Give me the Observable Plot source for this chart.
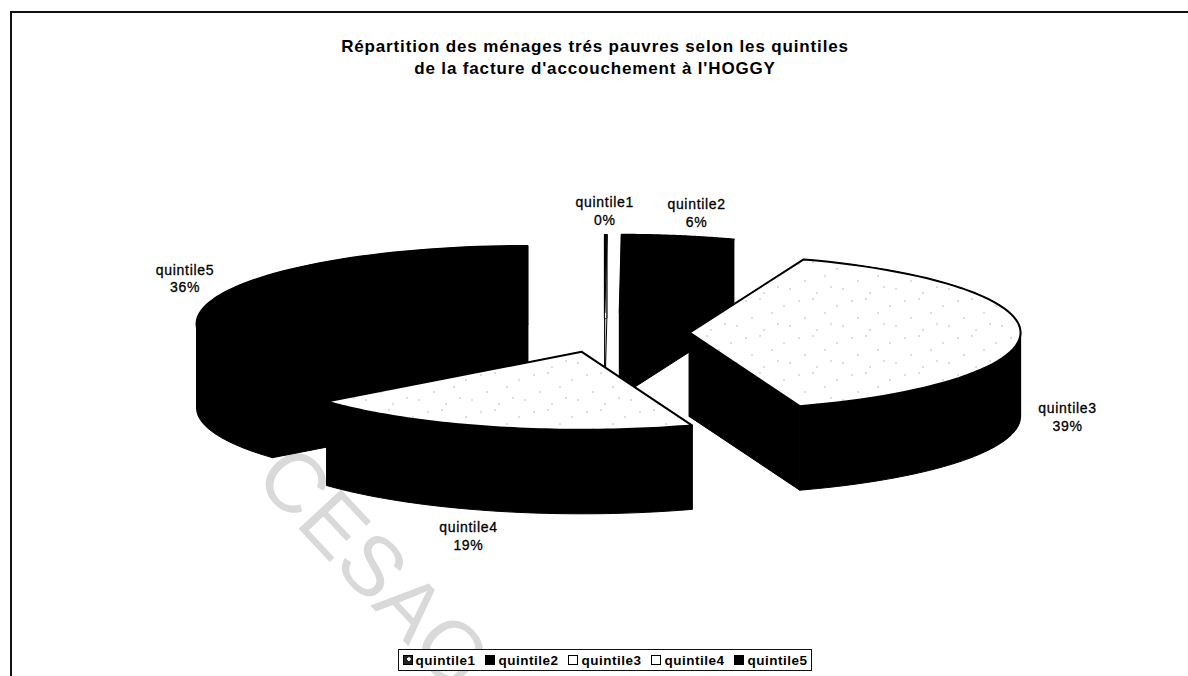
<!DOCTYPE html>
<html lang="fr">
<head>
<meta charset="utf-8">
<script src="https://cdn.jsdelivr.net/npm/d3@7"></script>
<script src="https://cdn.jsdelivr.net/npm/@observablehq/plot@0.6"></script>
<style>
  html, body { margin: 0; padding: 0; background: #fff; }
  #page { position: relative; width: 1188px; height: 676px; overflow: hidden; font-family: "Liberation Sans", Arial, sans-serif; color: #000; }
  #frame { position: absolute; left: 10px; top: 11px; width: 1178px; height: 665px; border-top: 2.5px solid #111; border-left: 2.5px solid #111; box-sizing: border-box; }
  #title { position: absolute; left: 0; width: 1190px; top: 36px; text-align: center; font-weight: bold; font-size: 17px; line-height: 21.5px; letter-spacing: 0.85px; }
  #legend { position: absolute; left: 398px; top: 649px; width: 414px; height: 22px; box-sizing: border-box; border: 1.5px solid #111; display: flex; align-items: center; justify-content: space-between; padding: 0 3.5px; font-weight: bold; font-size: 13.5px; letter-spacing: 0.5px; white-space: nowrap; background: #fff; }
  #legend span.item { display: inline-flex; align-items: center; gap: 3px; }
  #legend i { display: inline-block; width: 10px; height: 10px; box-sizing: border-box; border: 1.5px solid #000; }
  svg { position: absolute; left: 0; top: 0; }
  .lbl { letter-spacing: 0.7px; }
</style>
</head>
<body>
<div id="page">
  <div id="frame"></div>
  <div id="chart"></div>
  <div id="title">Répartition des ménages trés pauvres selon les quintiles<br>de la facture d'accouchement à l'HOGGY</div>
  <div id="legend"></div>
</div>
<script>
// Data
const quintiles = ["quintile1", "quintile2", "quintile3", "quintile4", "quintile5"];
const shares = [0.1, 5.5, 39, 19.4, 36];
const topFaces = ["#000", "#000", "url(#stipple)", "url(#stipple)", "#000"];
const swatches = ["radial-gradient(circle at 62% 38%, #fff 0 1.5px, #222 2px)", "#000", "#fff", "#fff", "#000"];
const drawOrder = [0, 1, 4, 2, 3];
const labelNudgeX = [-1, 18, 47, -25, -43];
const labelNudgeY = [-24, -24, 83, 108, -13];

// 3-D pie layout (page pixels)
const width = 1188, height = 676;
const pie = {cx: 604, cy: 332, rx: 331, ry: 78, depth: 84, explode: 0.257};

const total = d3.sum(shares);
let acc = 0;
const slices = quintiles.map((name, i) => {
  const a0 = acc / total * 2 * Math.PI;
  acc += shares[i];
  const a1 = acc / total * 2 * Math.PI;
  const mid = (a0 + a1) / 2;
  const ax = pie.cx + pie.explode * pie.rx * Math.sin(mid);
  const ay = pie.cy - pie.explode * pie.ry * Math.cos(mid);
  return {name, i, share: shares[i], a0, a1, mid, ax, ay};
});
const rim = (s, a) => [s.ax + pie.rx * Math.sin(a), s.ay - pie.ry * Math.cos(a)];
const arc = (s, a0 = s.a0, a1 = s.a1) =>
  d3.range(0, 61).map((k) => rim(s, a0 + (a1 - a0) * k / 60));

// polygons: one row per vertex, grouped by id
const rows = [];
const addPoly = (id, pts, fill, stroke) => pts.forEach(([x, y]) => rows.push({id, x, y, fill, stroke}));
for (const i of drawOrder) {
  const s = slices[i];
  const d = pie.depth;
  const side = i === 0 ? "#fff" : "#000";
  const a = arc(s);
  addPoly(`${i}-wallA`, [[s.ax, s.ay], a[0], [a[0][0], a[0][1] + d], [s.ax, s.ay + d]], side, "#000");
  addPoly(`${i}-wallB`, [[s.ax, s.ay], a[60], [a[60][0], a[60][1] + d], [s.ax, s.ay + d]], side, "#000");
  // rim: split where the ellipse turns back in x so the band never folds over itself
  const cuts = [s.a0, ...[Math.PI / 2, 3 * Math.PI / 2].filter((c) => c > s.a0 && c < s.a1), s.a1];
  d3.pairs(cuts).forEach(([c0, c1], k) => {
    const part = arc(s, c0, c1);
    addPoly(`${i}-rim${k}`, [...part, ...part.slice().reverse().map(([x, y]) => [x, y + d])], side, "#000");
  });
  addPoly(`${i}-top`, [[s.ax, s.ay], ...a], topFaces[i], "#000");
}
const ids = [...new Set(rows.map((r) => r.id))];

const labels = slices.map((s, i) => {
  const [x, y] = rim(s, s.mid);
  return {x: x + labelNudgeX[i], y: y + labelNudgeY[i],
          text: `${s.name}\n${Math.round(s.share)}%`};
});

const chart = Plot.plot({
  width, height,
  margin: 0,
  style: {background: "transparent", overflow: "visible"},
  x: {domain: [0, width], range: [0, width], axis: null},
  y: {domain: [0, height], range: [0, height], axis: null},
  marks: [
    // scanned stamp behind the chart
    Plot.text(["CESAG"], {x: () => 372, y: () => 568, text: (d) => d, rotate: 47, fontSize: 84, fill: "#d9d9d9", fontFamily: "Liberation Sans"}),
    ...ids.map((id) => {
      const part = rows.filter((r) => r.id === id);
      return Plot.line(part, {x: "x", y: "y", fill: part[0].fill, stroke: part[0].stroke,
        strokeWidth: id === "0-top" ? 1 : id.endsWith("top") ? 2 : 1, curve: "linear-closed"});
    }),
    Plot.text(labels, {x: "x", y: "y", text: "text", fontSize: 14, lineHeight: 1.28,
      fontFamily: "Liberation Sans", fill: "#000", stroke: "#000", strokeWidth: 0.3, className: "lbl"})
  ]
});

// sparse stipple for the two pale top faces
const ns = "http://www.w3.org/2000/svg";
const defs = document.createElementNS(ns, "defs");
const pat = document.createElementNS(ns, "pattern");
pat.setAttribute("id", "stipple");
pat.setAttribute("width", 53);
pat.setAttribute("height", 37);
pat.setAttribute("patternUnits", "userSpaceOnUse");
const bg = document.createElementNS(ns, "rect");
bg.setAttribute("width", 53); bg.setAttribute("height", 37); bg.setAttribute("fill", "#fff");
pat.appendChild(bg);
for (const [px, py] of [[3, 4], [17, 2], [41, 9], [9, 21], [29, 16], [47, 29], [21, 33], [35, 27]]) {
  const c = document.createElementNS(ns, "rect");
  c.setAttribute("x", px); c.setAttribute("y", py);
  c.setAttribute("width", 1); c.setAttribute("height", 1);
  c.setAttribute("fill", "#777");
  pat.appendChild(c);
}
defs.appendChild(pat);
chart.insertBefore(defs, chart.firstChild);
document.getElementById("chart").appendChild(chart);

// legend
const legend = document.getElementById("legend");
quintiles.forEach((q, i) => {
  const item = document.createElement("span");
  item.className = "item";
  const sw = document.createElement("i");
  sw.style.background = swatches[i];
  item.appendChild(sw);
  item.appendChild(document.createTextNode(q));
  legend.appendChild(item);
});
</script>
</body>
</html>
